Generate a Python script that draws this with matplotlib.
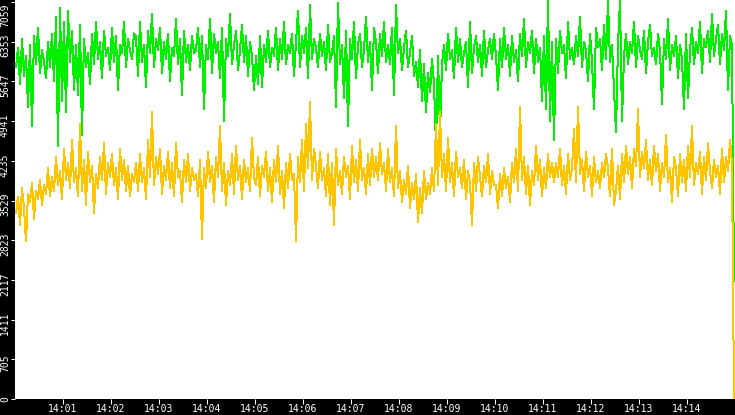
import numpy as np
import matplotlib
matplotlib.use("Agg")
import matplotlib.pyplot as plt
from matplotlib.ticker import FixedLocator, NullFormatter

# Samples every 2.5 s starting 14:00:00 (360 samples = 15 min)
SAMPLE_SEC = 2.5

green_vals = [
    5900, 6250, 5600, 6400, 5750, 6100, 5200, 6300, 4860, 6450, 5950, 6600, 5800, 6200, 6000,
    5700, 6350, 5900, 6500, 5650, 6800, 4500, 6950, 5300, 6700, 5100, 6900, 6000, 6550, 5500,
    6300, 5400, 6650, 4700, 6400, 5900, 6150, 5600, 6500, 5950, 6700, 6050, 6350, 5700, 6550,
    6100, 6250, 5850, 6600, 6000, 6450, 5500, 6300, 6150, 6700, 5900, 6400, 6200, 6050, 6500,
    6450, 5750, 6700, 6000, 6300, 5550, 6550, 6150, 6850, 5900, 6400, 6200, 6600, 5800, 6350,
    6050, 6500, 5650, 6250, 6100, 6750, 5950, 6400, 5400, 6550, 6000, 6300, 5850, 6450, 6150,
    6200, 6600, 5900, 6450, 5150, 6300, 6050, 6750, 5800, 6500, 6150, 6350, 5700, 6600, 4950,
    6400, 6100, 6850, 5950, 6300, 6550, 5850, 6200, 6650, 6000, 6450, 5750, 6350, 6100, 5500,
    6100, 5600, 6450, 5550, 6300, 6000, 6550, 5900, 6250, 6100, 6600, 5850, 6400, 6050, 6700,
    5950, 6300, 6150, 6500, 5750, 6350, 6900, 5900, 6450, 6150, 6600, 5700, 7000, 6050, 6400,
    6250, 5900, 6500, 6100, 6350, 5850, 6650, 6000, 6150, 6450, 5200, 7050, 5950, 6300, 5350,
    6550, 4850, 6400, 6050, 6700, 5700, 6300, 6500, 5900, 6200, 6800, 6000, 6350, 5500, 6600,
    6350, 5800, 6500, 6100, 6700, 6000, 6300, 5950, 6600, 5400, 7000, 6150, 6400, 5850, 6250,
    6550, 5900, 6150, 6450, 5750, 6000, 5550, 6200, 5300, 5950, 5100, 5800, 5450, 6050, 5600,
    4500, 6100, 4700, 5950, 6300, 5850, 6500, 6050, 6200, 5700, 6600, 6000, 6400, 5900, 6150,
    6350, 5550, 6700, 5800, 6250, 6450, 6000, 6300, 5750, 6550, 5900, 6200, 6400, 6050, 6500,
    6100, 5500, 6400, 5900, 6600, 6050, 6300, 5750, 6450, 6000, 6200, 5650, 6500, 6100, 6750,
    5900, 6350, 6150, 6550, 5800, 6400, 6000, 6250, 5300, 6450, 5150, 7080, 4950, 6350, 4600,
    6400, 5800, 6550, 6150, 6300, 5700, 6700, 6050, 6250, 5950, 6450, 6100, 6800, 5900, 6350,
    6200, 5650, 6500, 6000, 5150, 6600, 6250, 6400, 5850, 6650, 6050, 7080, 6000, 6300, 5500,
    4750, 6300, 7080, 4950, 6100, 6500, 5950, 6350, 6150, 6700, 5900, 6450, 6200, 6050, 6550,
    5800, 6350, 6650, 6100, 6250, 5950, 6500, 6200, 5250, 6400, 6050, 6750, 5850, 6300, 6100,
    6450, 5700, 6300, 6050, 5150, 6500, 5350, 6200, 6600, 5950, 6350, 6150, 6700, 5800, 6400,
    6250, 6550, 6000, 6850, 6100, 6400, 6650, 5950, 6500, 6200, 6900, 5500, 6450, 6300, 2100,
]

yellow_vals = [
    3300, 3600, 3100, 3750, 3400, 2800, 3650, 3500, 3850, 3200, 3700, 3550, 3900, 3450, 3800,
    3650, 4100, 3600, 3950, 3700, 4300, 3800, 4050, 3550, 4450, 3900, 4200, 3750, 4600, 3850,
    4100, 3600, 4900, 3700, 4250, 3450, 4400, 3850, 4150, 3300, 4000, 3750, 4300, 3900, 4550,
    3650, 4200, 3950, 4350, 3800, 4100, 3550, 4450, 3900, 4250, 3700, 4150, 3600, 4000, 3850,
    4200, 3700, 4350, 3850, 4100, 3550, 4600, 3950, 5100, 3800, 4300, 4000, 4450, 3650, 4150,
    3900, 4400, 3750, 4200, 3600, 4550, 3950, 4050, 3500, 4250, 3850, 4350, 3700, 4100, 3900,
    4000, 3600, 4250, 2850, 4100, 3750, 4400, 3850, 4150, 3500, 4300, 3950, 4850, 3700, 4200,
    3450, 4050, 3800, 4350, 3650, 4500, 3900, 4150, 3550, 4250, 3850, 4100, 3700, 4650, 3950,
    3800, 4300, 3600, 4150, 3950, 4400, 3700, 4100, 3500, 4250, 3850, 4500, 3650, 4050, 3400,
    4200, 3750, 4350, 3900, 4000, 2800, 4300, 3850, 4600, 3700, 4900, 4100, 5280, 3900, 4450,
    4150, 3750, 4400, 3900, 4100, 3600, 4350, 3450, 4200, 3100, 4450, 3800, 4050, 3650, 4300,
    3950, 4150, 3550, 4500, 3850, 4250, 3700, 4600, 3900, 4100, 3650, 4350, 3800, 4450, 3950,
    4300, 3900, 4550, 4000, 4200, 3700, 4450, 3850, 4100, 3600, 4850, 3750, 4050, 3500, 3900,
    3650, 4150, 3400, 3850, 3550, 4000, 3150, 3750, 3300, 4050, 3550, 3850, 3650, 4100, 3700,
    4900, 3800, 5100, 3950, 4350, 3700, 4650, 3850, 4200, 3600, 4400, 3950, 4100, 3750, 4250,
    3550, 4050, 3850, 3100, 4200, 3700, 4300, 3950, 3600, 4150, 3850, 4350, 3650, 4050, 3800,
    3800, 3400, 4000, 3600, 4100, 3750, 3950, 3500, 4200, 3850, 4450, 3700, 5200, 3900, 4300,
    3650, 4150, 3450, 4050, 3800, 4500, 3900, 4250, 3600, 4100, 3750, 4350, 3950, 4200, 3850,
    4200, 3950, 4450, 3800, 4150, 3650, 4350, 3900, 4100, 4800, 3850, 5200, 4000, 4250, 3700,
    4400, 3950, 4150, 3600, 4300, 3850, 4050, 3750, 4200, 3950, 4350, 4100, 3600, 4450, 3450,
    3700, 4150, 3550, 4350, 3850, 4500, 4000, 4300, 3750, 4450, 4150, 5150, 3950, 4400, 4100,
    4600, 3900, 4250, 3800, 4500, 4050, 4350, 3700, 4200, 3950, 4700, 3850, 4100, 3500, 4300,
    4100, 3600, 4350, 3850, 4250, 3700, 4500, 3950, 4850, 3800, 4200, 4000, 4400, 3650, 4300,
    3900, 4550, 4050, 3750, 4250, 3950, 4150, 3650, 4450, 3850, 4300, 4050, 4600, 4200, 0,
]

y_ticks = [0, 705, 1411, 2117, 2823, 3529, 4235, 4941, 5647, 6353, 7059]
x_tick_minutes = list(range(1, 15))
x_tick_labels = [f"14:{m:02d}" for m in x_tick_minutes]

W, H = 735, 415
DPI = 100
PX = 72.0 / DPI  # one pixel in points

fig = plt.figure(figsize=(W / DPI, H / DPI), dpi=DPI, facecolor="black")
ax = fig.add_axes([15 / W, 16 / H, 720 / W, 399 / H], facecolor="white")

t_min = np.arange(len(green_vals)) * SAMPLE_SEC / 60.0 + SAMPLE_SEC / 120.0
ax.plot(t_min, green_vals, color="#00f000", lw=PX, antialiased=False, zorder=2)
ax.plot(t_min, yellow_vals, color="#ffc400", lw=PX, antialiased=False, zorder=3)

ax.set_xlim(0, 15)
ax.set_ylim(0, 7095)
for s in ax.spines.values():
    s.set_visible(False)

# x axis: white ticks and labels on the black band
ax.xaxis.set_major_locator(FixedLocator(x_tick_minutes))
ax.set_xticklabels(x_tick_labels)
ax.tick_params(axis="x", colors="white", length=5 * PX, width=PX, pad=0,
               labelsize=7, direction="out")
for lab in ax.get_xticklabels():
    lab.set_family("DejaVu Sans Mono")

# y axis: ticks only, labels drawn as rotated text
ax.yaxis.set_major_locator(FixedLocator(y_ticks))
ax.yaxis.set_major_formatter(NullFormatter())
ax.tick_params(axis="y", colors="white", length=4 * PX, width=PX, direction="out")

ytrans = ax.get_yaxis_transform()
for i, v in enumerate(y_ticks):
    if i == 0:
        va, dy = "bottom", -2
    elif i == len(y_ticks) - 1:
        va, dy = "top", -1
    else:
        va, dy = "center", -4 * PX
    ax.annotate(str(v), xy=(0, v), xycoords=ytrans,
                xytext=(-5 * PX, dy), textcoords="offset points",
                rotation=90, ha="right", va=va, color="white",
                fontsize=7, family="DejaVu Sans Mono", annotation_clip=False)

fig.savefig("out.png", dpi=DPI, facecolor="black")
